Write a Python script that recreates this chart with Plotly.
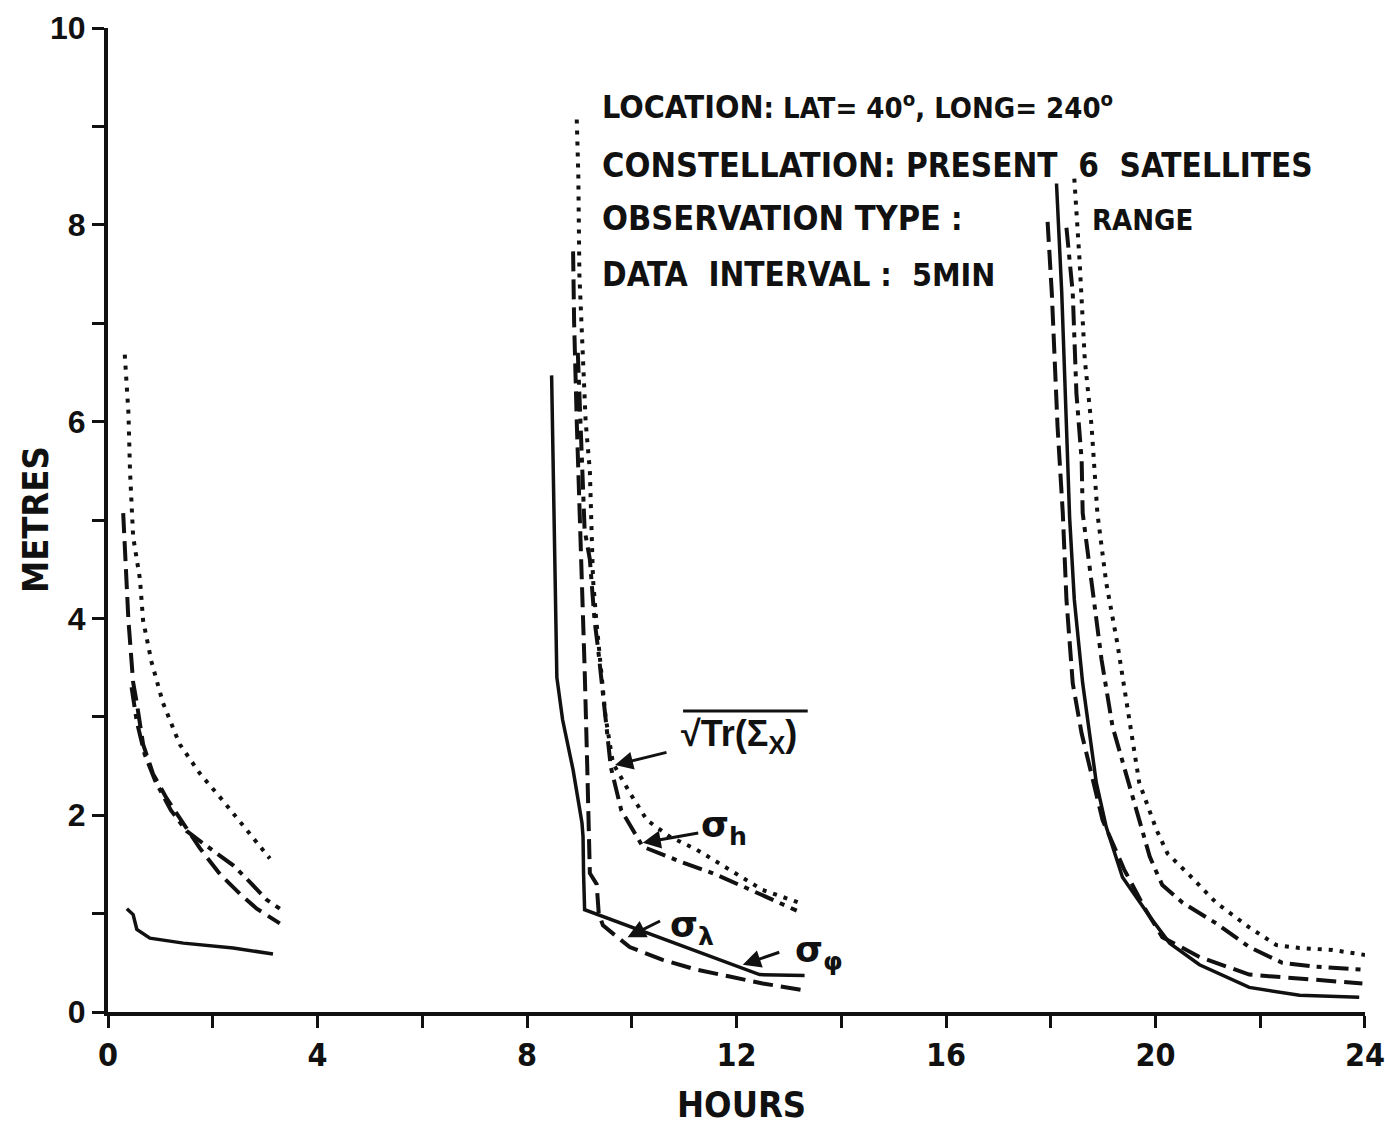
import plotly.graph_objects as go

# ---------------- data ----------------
# sigma_phi (solid)
phi_x1 = [0.36, 0.48, 0.55, 0.80, 1.44, 2.39, 3.15]
phi_y1 = [1.05, 0.99, 0.84, 0.75, 0.70, 0.65, 0.59]
phi_x2 = [8.47, 8.50, 8.53, 8.57, 8.68, 8.88, 9.05, 9.07, 9.08, 9.10, 12.44, 13.30]
phi_y2 = [6.47, 5.50, 4.50, 3.40, 2.97, 2.46, 1.92, 1.78, 1.41, 1.04, 0.38, 0.37]
phi_x3 = [18.11, 18.21, 18.30, 18.36, 18.45, 18.61, 18.87, 19.06, 19.37, 19.89, 20.27, 20.84, 21.79, 22.75, 23.89]
phi_y3 = [8.42, 7.31, 5.95, 5.03, 4.19, 3.34, 2.33, 1.88, 1.37, 0.97, 0.70, 0.48, 0.25, 0.17, 0.15]

# sigma_lambda (long dash)
lam_x1 = [0.29, 0.39, 0.48, 0.55, 0.67, 0.86, 1.12, 1.44, 1.76, 2.14, 2.52, 2.84, 3.28]
lam_y1 = [5.07, 3.98, 3.35, 3.14, 2.72, 2.42, 2.17, 1.91, 1.66, 1.40, 1.20, 1.05, 0.90]
lam_x2 = [8.88, 8.90, 8.95, 9.00, 9.05, 9.10, 9.15, 9.18, 9.20, 9.33, 9.37, 9.45, 9.96, 10.59, 11.24, 11.87, 12.50, 13.30]
lam_y2 = [7.73, 7.00, 6.00, 5.20, 4.50, 3.50, 2.50, 1.80, 1.41, 1.30, 1.00, 0.88, 0.66, 0.53, 0.43, 0.36, 0.29, 0.22]
lam_x3 = [17.94, 18.02, 18.13, 18.23, 18.30, 18.42, 18.59, 18.80, 18.99, 19.40, 19.80, 20.13, 20.84, 21.79, 22.75, 23.95]
lam_y3 = [8.03, 7.31, 5.95, 5.07, 4.19, 3.34, 2.83, 2.36, 1.95, 1.45, 1.05, 0.76, 0.56, 0.38, 0.34, 0.29]

# sigma_h (dash-dot)
h_x1 = [0.45, 0.55, 0.70, 0.90, 1.20, 1.50, 1.80, 2.00, 2.39, 2.71, 3.03, 3.28]
h_y1 = [3.30, 2.95, 2.62, 2.35, 2.05, 1.84, 1.72, 1.64, 1.49, 1.32, 1.14, 1.05]
h_x2 = [8.97, 9.05, 9.10, 9.20, 9.29, 9.36, 9.52, 9.60, 9.80, 10.02, 10.21, 10.92, 11.55, 12.19, 12.82, 13.15]
h_y2 = [6.70, 5.60, 4.90, 4.60, 3.98, 3.68, 2.90, 2.49, 2.05, 1.85, 1.68, 1.53, 1.41, 1.26, 1.11, 1.03]
h_x3 = [18.30, 18.42, 18.49, 18.59, 18.61, 18.78, 18.97, 19.18, 19.45, 19.73, 19.89, 20.02, 20.13, 20.52, 21.16, 21.79, 22.42, 23.07, 23.95]
h_y3 = [7.97, 7.31, 6.29, 5.61, 5.07, 4.36, 3.58, 2.90, 2.39, 1.85, 1.58, 1.42, 1.29, 1.11, 0.90, 0.66, 0.50, 0.46, 0.43]

# sqrt(Tr(Sigma_x)) (dotted)
tr_x1 = [0.32, 0.39, 0.42, 0.48, 0.61, 0.67, 0.83, 1.05, 1.37, 1.76, 2.19, 2.58, 3.09]
tr_y1 = [6.68, 6.09, 5.50, 4.83, 4.40, 3.98, 3.56, 3.14, 2.72, 2.42, 2.15, 1.89, 1.56]
tr_x2 = [8.95, 8.98, 9.00, 9.05, 9.12, 9.20, 9.26, 9.32, 9.39, 9.50, 9.64, 9.96, 10.29, 10.73, 11.24, 11.87, 12.50, 13.20]
tr_y2 = [9.07, 8.50, 7.50, 6.80, 6.00, 5.50, 4.40, 4.00, 3.61, 3.00, 2.53, 2.23, 1.95, 1.78, 1.65, 1.44, 1.24, 1.11]
tr_x3 = [18.45, 18.55, 18.65, 18.78, 18.89, 19.06, 19.27, 19.50, 19.69, 20.02, 20.23, 20.65, 21.16, 21.79, 22.31, 22.75, 23.38, 24.00]
tr_y3 = [8.47, 7.64, 6.63, 5.95, 5.07, 4.36, 3.75, 3.00, 2.33, 1.85, 1.61, 1.39, 1.11, 0.86, 0.68, 0.65, 0.63, 0.58]

x_tick_vals = [0, 4, 8, 12, 16, 20, 24]
x_tick_text = ["0", "4", "8", "12", "16", "20", "24"]
y_tick_vals = [0, 2, 4, 6, 8, 10]
y_tick_text = ["0", "2", "4", "6", "8", "10"]

x_title = "HOURS"
y_title = "METRES"
info_lines = [
    ("LOCATION", ": LAT= 40<sup>o</sup>, LONG= 240<sup>o</sup>"),
    ("CONSTELLATION", ": PRESENT  6  SATELLITES"),
    ("OBSERVATION TYPE", " :"),
    ("DATA  INTERVAL", " :  5MIN"),
]
range_label = "RANGE"

# ---------------- figure ----------------
INK = "#111111"
COND = "Liberation Sans Narrow, DejaVu Sans Condensed, Arial Narrow, Liberation Sans, Arial, sans-serif"
BOLD = "Liberation Sans, Arial, Helvetica, sans-serif"


def join(*segs):
    xs, ys = [], []
    for sx, sy in segs:
        if xs:
            xs.append(None)
            ys.append(None)
        xs.extend(sx)
        ys.extend(sy)
    return xs, ys


fig = go.Figure()

series = [
    ("σφ", (phi_x1, phi_y1), (phi_x2, phi_y2), (phi_x3, phi_y3), "solid", 3.5),
    ("σλ", (lam_x1, lam_y1), (lam_x2, lam_y2), (lam_x3, lam_y3), "20px,8px", 4),
    ("σh", (h_x1, h_y1), (h_x2, h_y2), (h_x3, h_y3), "20px,7px,5px,7px", 4),
    ("√Tr(Σx)", (tr_x1, tr_y1), (tr_x2, tr_y2), (tr_x3, tr_y3), "4px,7px", 4),
]
for name, s1, s2, s3, dash, w in series:
    xs, ys = join(s1, s2, s3)
    fig.add_trace(go.Scatter(x=xs, y=ys, mode="lines", name=name,
                             line=dict(color=INK, width=w, dash=dash),
                             connectgaps=False, showlegend=False,
                             hoverinfo="skip"))

# info text block: (y, big size, small size)
info_pos = [(9.20, 32, 29), (8.61, 34, 33), (8.07, 34, 32), (7.49, 33, 32)]
for (big, small), (yy, bs, ss) in zip(info_lines, info_pos):
    fig.add_annotation(x=9.39, y=yy, xref="x", yref="y", xanchor="left", yanchor="middle",
                       showarrow=False,
                       text=f"<span style='font-size:{bs}px'>{big}</span><span style='font-size:{ss}px'>{small}</span>",
                       font=dict(family=COND, size=bs, color=INK, weight="bold"))
fig.add_annotation(x=18.74, y=8.05, xref="x", yref="y", xanchor="left", yanchor="middle",
                   showarrow=False, text=range_label,
                   font=dict(family=COND, size=29, color=INK, weight="bold"))

# curve labels
label_font = dict(family="DejaVu Sans, Liberation Sans, sans-serif", size=36, color=INK, weight="bold")
fig.add_annotation(x=12.05, y=2.80, xref="x", yref="y", xanchor="center", yanchor="middle",
                   showarrow=False, text="√Tr(Σ<sub>X</sub>)",
                   font=dict(family=BOLD, size=36, color=INK, weight="bold"))
fig.add_shape(type="line", x0=10.98, x1=13.36, y0=3.06, y1=3.06, xref="x", yref="y",
              line=dict(color=INK, width=3))
fig.add_annotation(x=11.77, y=1.87, xref="x", yref="y", xanchor="center", yanchor="middle",
                   showarrow=False, text="σ<sub>h</sub>", font=label_font)
fig.add_annotation(x=11.15, y=0.86, xref="x", yref="y", xanchor="center", yanchor="middle",
                   showarrow=False, text="σ<sub>λ</sub>", font=label_font)
fig.add_annotation(x=13.58, y=0.60, xref="x", yref="y", xanchor="center", yanchor="middle",
                   showarrow=False, text="σ<sub>φ</sub>", font=label_font)

# arrows (head at x,y; tail offset in px)
arrows = [(9.68, 2.51, 53, -13), (10.21, 1.72, 57, -10), (9.92, 0.76, 34, -17), (12.12, 0.48, 38, -13)]
for ax_, ay_, dx, dy in arrows:
    fig.add_annotation(x=ax_, y=ay_, xref="x", yref="y", text="", showarrow=True,
                       ax=dx, ay=dy, arrowhead=2, arrowsize=1.2, arrowwidth=3, arrowcolor=INK)

# axis titles
fig.add_annotation(x=0.504, y=-0.094, xref="paper", yref="paper", xanchor="center", yanchor="middle",
                   showarrow=False, text=x_title,
                   font=dict(family=COND, size=36, color=INK, weight="bold"))
fig.add_annotation(x=-0.058, y=0.50, xref="paper", yref="paper", xanchor="center", yanchor="middle",
                   showarrow=False, text=y_title, textangle=-90,
                   font=dict(family=COND, size=36, color=INK, weight="bold"))

fig.update_layout(
    width=1385, height=1126,
    margin=dict(l=108, r=20, t=28, b=114, autoexpand=False),
    paper_bgcolor="white", plot_bgcolor="white",
    xaxis=dict(range=[0, 24.0001], showgrid=False, zeroline=False, showline=True,
               linecolor=INK, linewidth=4, ticks="outside", ticklen=12, tickwidth=3,
               tickcolor=INK, tickvals=x_tick_vals, ticktext=x_tick_text,
               ticklabeloverflow="allow", automargin=False,
               tickfont=dict(family=COND, size=32, color=INK, weight="bold"),
               minor=dict(dtick=2, ticks="outside", ticklen=12, tickwidth=3, tickcolor=INK),
               fixedrange=True),
    yaxis=dict(range=[0, 10.0001], showgrid=False, zeroline=False, showline=True,
               linecolor=INK, linewidth=4, ticks="outside", ticklen=12, tickwidth=3,
               tickcolor=INK, tickvals=y_tick_vals, ticktext=y_tick_text,
               ticklabeloverflow="allow", automargin=False,
               tickfont=dict(family=BOLD, size=32, color=INK, weight="bold"),
               minor=dict(dtick=1, ticks="outside", ticklen=12, tickwidth=3, tickcolor=INK),
               fixedrange=True),
)

fig.write_html("out.html")
